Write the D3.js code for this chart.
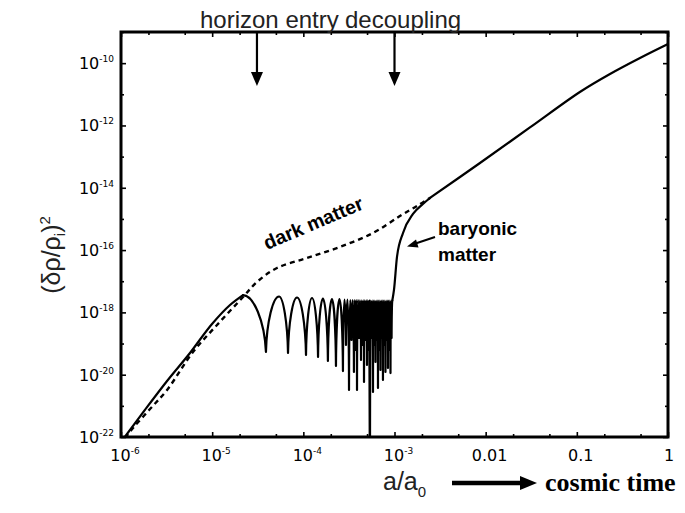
<!DOCTYPE html>
<html>
<head>
<meta charset="utf-8">
<script src="https://cdn.jsdelivr.net/npm/d3@7"></script>
<style>
  body { margin: 0; background: #fff; }
  text { fill: #000; }
</style>
</head>
<body>
<svg id="chart" width="685" height="513"></svg>
<script>
// ---- data: [a/a0, (δρ/ρ)^2] ----
const xMajor = [1e-6, 1e-5, 1e-4, 1e-3, 1e-2, 1e-1, 1];
const xMinor = [2e-6, 5e-6, 2e-5, 5e-5, 2e-4, 5e-4, 2e-3, 5e-3, 2e-2, 5e-2, 0.2, 0.5];
const xTickLabels = ["10^-6", "10^-5", "10^-4", "10^-3", "0.01", "0.1", "1"];
const yMajor = [1e-22, 1e-20, 1e-18, 1e-16, 1e-14, 1e-12, 1e-10];
const yMinor = [1e-21, 1e-19, 1e-17, 1e-15, 1e-13, 1e-11, 1e-9];
const yTickLabels = ["10^-22", "10^-20", "10^-18", "10^-16", "10^-14", "10^-12", "10^-10"];

const horizonEntry = 3.1e-5;
const decoupling = 1e-3;

// dark matter (dashed) up to where it joins the baryons
const darkMatter = [
  [1.107e-6, 9.3e-23], [1.355e-6, 1.95e-22], [2.08e-6, 7.9e-22], [3.2e-6, 3.23e-21],
  [6.16e-6, 5.35e-20], [1.13e-5, 3.94e-19], [2.18e-5, 3.12e-18], [3.10e-5, 9.46e-18],
  [5.14e-5, 2.66e-17], [1.097e-4, 5.57e-17], [2.52e-4, 1.26e-16], [5.81e-4, 3.54e-16],
  [1.148e-3, 1.24e-15], [1.765e-3, 2.60e-15], [2.45e-3, 4.71e-15]
];

// baryons before horizon entry
const baryonEarly = [
  [1.1e-6, 1.0e-22], [1.83e-6, 7.4e-22], [3.2e-6, 6.28e-21], [5.71e-6, 4.97e-20],
  [9.96e-6, 4.24e-19], [1.569e-5, 1.73e-18], [2.18e-5, 3.6e-18]
];

// acoustic oscillation maxima and minima (peak, trough, peak, ... peak)
const acousticPeaks = [
  [2.18e-5, 3.6e-18], [5.41e-5, 3.24e-18], [8.52e-5, 3.01e-18], [1.245e-4, 2.90e-18],
  [1.64e-4, 2.79e-18], [2.06e-4, 2.69e-18], [2.49e-4, 2.69e-18], [2.828e-4, 2.59e-18],
  [3.051e-4, 2.59e-18], [3.270e-4, 2.50e-18], [3.482e-4, 2.50e-18], [3.663e-4, 2.50e-18],
  [3.804e-4, 2.50e-18], [3.976e-4, 2.50e-18], [4.182e-4, 2.45e-18], [4.371e-4, 2.45e-18],
  [4.539e-4, 2.45e-18], [4.715e-4, 2.45e-18], [4.898e-4, 2.45e-18], [5.087e-4, 2.45e-18],
  [5.283e-4, 2.40e-18], [5.488e-4, 2.40e-18], [5.699e-4, 2.40e-18], [5.896e-4, 2.40e-18],
  [6.088e-4, 2.40e-18], [6.282e-4, 2.40e-18], [6.483e-4, 2.40e-18], [6.691e-4, 2.40e-18],
  [6.905e-4, 2.40e-18], [7.126e-4, 2.40e-18], [7.354e-4, 2.40e-18], [7.590e-4, 2.40e-18],
  [7.834e-4, 2.40e-18], [8.085e-4, 2.40e-18], [8.344e-4, 2.40e-18], [8.611e-4, 2.40e-18],
  [8.887e-4, 2.40e-18], [9.162e-4, 2.40e-18], [9.46e-4, 2.40e-18]
];
const acousticTroughs = [
  [3.89e-5, 5.35e-20], [6.79e-5, 4.97e-20], [1.07e-4, 4.29e-20], [1.45e-4, 3.70e-20],
  [1.86e-4, 2.75e-20], [2.28e-4, 1.90e-20], [2.72e-4, 1.31e-20], [2.937e-4, 8.97e-20],
  [3.17e-4, 3.23e-21], [3.375e-4, 1.30e-19], [3.59e-4, 1.22e-20], [3.733e-4, 6.21e-20],
  [3.88e-4, 3.23e-21], [4.077e-4, 1.51e-19], [4.29e-4, 2.96e-20], [4.455e-4, 8.97e-20],
  [4.63e-4, 5.83e-21], [4.806e-4, 1.30e-19], [4.99e-4, 2.05e-20], [5.184e-4, 6.21e-20],
  [5.38e-4, 1e-24], [5.592e-4, 1.51e-19], [5.81e-4, 2.78e-21], [5.985e-4, 8.97e-20],
  [6.19e-4, 2.56e-20], [6.375e-4, 1.30e-19], [6.59e-4, 3.74e-21], [6.792e-4, 6.21e-20],
  [7.02e-4, 1.42e-20], [7.236e-4, 1.51e-19], [7.47e-4, 6.76e-21], [7.705e-4, 8.97e-20],
  [7.96e-4, 1.22e-20], [8.21e-4, 1.30e-19], [8.48e-4, 1.64e-20], [8.745e-4, 6.21e-20],
  [9.04e-4, 1.13e-20], [9.292e-4, 1.51e-19]
];

// baryons falling into the dark matter wells after decoupling
const baryonRise = [
  [9.46e-4, 2.40e-18], [9.87e-4, 5.24e-18], [1.065e-3, 6.0e-17], [1.24e-3, 3.54e-16],
  [1.595e-3, 1.44e-15], [2.05e-3, 3.02e-15], [2.45e-3, 4.71e-15]
];

// shared growth once both components move together
const matterEra = [
  [2.45e-3, 4.71e-15], [8.66e-3, 6.25e-14], [3.06e-2, 8.63e-13], [0.108, 1.19e-11],
  [0.231, 4.50e-11], [0.493, 1.47e-10], [1, 4.13e-10]
];

// ---- chart ----
const svg = d3.select("#chart");
const x = d3.scaleLog().domain([1e-6, 1]).range([121, 668]);
const y = d3.scaleLog().domain([1e-22, 1e-9]).range([437, 32]);
const [x0, x1] = x.range(), [y0, y1] = y.range();

svg.append("defs").append("clipPath").attr("id", "plot")
  .append("rect").attr("x", x0).attr("y", y1).attr("width", x1 - x0).attr("height", y0 - y1);

// ticks, pointing inward on all four sides
function ticks(axis, scale, vals, len, tr) {
  svg.append("g").attr("transform", tr)
    .call(axis(scale).tickValues(vals).tickSize(-len).tickFormat(""))
    .call(g => g.select(".domain").remove())
    .selectAll("line").attr("stroke", "#000").attr("stroke-width", 1.6);
}
ticks(d3.axisBottom, x, xMajor, 5, `translate(0,${y0})`);
ticks(d3.axisBottom, x, xMinor, 3, `translate(0,${y0})`);
ticks(d3.axisTop, x, xMajor, 5, `translate(0,${y1})`);
ticks(d3.axisTop, x, xMinor, 3, `translate(0,${y1})`);
ticks(d3.axisLeft, y, yMajor, 5, `translate(${x0},0)`);
ticks(d3.axisLeft, y, yMinor, 3, `translate(${x0},0)`);
ticks(d3.axisRight, y, yMajor, 5, `translate(${x1},0)`);
ticks(d3.axisRight, y, yMinor, 3, `translate(${x1},0)`);

// tick labels with small superscripts
function label(g, str) {
  const [base, exp] = str.split("^");
  g.append("tspan").text(base);
  if (exp) g.append("tspan").attr("dy", -7).attr("font-size", 9).text(exp);
}
xMajor.forEach((v, i) => {
  const t = svg.append("text")
    .attr("x", x(v) + (i < xMajor.length - 1 ? 4 : 1)).attr("y", 461)
    .attr("text-anchor", "middle")
    .attr("font-family", "DejaVu Sans").attr("font-size", 16);
  label(t, xTickLabels[i]);
});
yMajor.forEach((v, i) => {
  const t = svg.append("text")
    .attr("x", x0 - 7).attr("y", y(v) + 6)
    .attr("text-anchor", "end")
    .attr("font-family", "DejaVu Sans").attr("font-size", 16);
  label(t, yTickLabels[i]);
});

// curves
const plot = svg.append("g").attr("clip-path", "url(#plot)");
const smooth = d3.line().x(d => x(d[0])).y(d => y(d[1])).curve(d3.curveCatmullRom.alpha(0.5));
const mono = d3.line().x(d => x(d[0])).y(d => y(d[1])).curve(d3.curveMonotoneX);

plot.append("path").attr("d", smooth(darkMatter))
  .attr("fill", "none").attr("stroke", "#000").attr("stroke-width", 2.4)
  .attr("stroke-dasharray", "5,4");

const solid = p => p.attr("fill", "none").attr("stroke", "#000")
  .attr("stroke-width", 2.2).attr("stroke-linejoin", "round").attr("stroke-linecap", "round");

plot.append("path").attr("d", mono(baryonEarly)).call(solid);

// oscillations: rounded maxima, cusp-like minima
let osc = `M${x(acousticPeaks[0][0])},${y(acousticPeaks[0][1])}`;
acousticTroughs.forEach((t, i) => {
  const p = acousticPeaks[i], q = acousticPeaks[i + 1];
  const px = x(p[0]), py = y(p[1]), tx = x(t[0]), ty = y(t[1]);
  const qx = x(q[0]), qy = y(q[1]);
  const d1 = tx - px, d2 = qx - tx;
  osc += `C${px + 0.45 * d1},${py} ${tx - 0.06 * d1},${ty - 0.55 * (ty - py)} ${tx},${ty}`;
  osc += `C${tx + 0.06 * d2},${ty - 0.55 * (ty - qy)} ${qx - 0.45 * d2},${qy} ${qx},${qy}`;
});
plot.append("path").attr("d", osc).call(solid);

plot.append("path").attr("d", mono(baryonRise)).call(solid);
plot.append("path").attr("d", smooth(matterEra)).call(solid);

// frame
svg.append("rect").attr("x", x0).attr("y", y1).attr("width", x1 - x0).attr("height", y0 - y1)
  .attr("fill", "none").attr("stroke", "#000").attr("stroke-width", 3);

// event arrows on top
[horizonEntry, decoupling].forEach(v => {
  const ax = x(v);
  svg.append("line").attr("x1", ax).attr("x2", ax).attr("y1", y1).attr("y2", 76)
    .attr("stroke", "#000").attr("stroke-width", 2.2);
  svg.append("path").attr("d", `M${ax - 6},${72}L${ax + 6},${72}L${ax},${86}Z`).attr("fill", "#000");
});
svg.append("text").attr("x", 200).attr("y", 28).style("fill", "#222")
  .attr("font-family", "Liberation Sans").attr("font-size", 24).text("horizon entry");
svg.append("text").attr("x", 345).attr("y", 28).style("fill", "#222")
  .attr("font-family", "Liberation Sans").attr("font-size", 24).text("decoupling");

// curve labels
svg.append("text").attr("transform", "translate(267,250) rotate(-23)")
  .attr("font-family", "Liberation Sans").attr("font-weight", "bold").attr("font-size", 19.5)
  .text("dark matter");
svg.append("text").attr("x", 438).attr("y", 235)
  .attr("font-family", "Liberation Sans").attr("font-weight", "bold").attr("font-size", 19)
  .text("baryonic");
svg.append("text").attr("x", 438).attr("y", 261)
  .attr("font-family", "Liberation Sans").attr("font-weight", "bold").attr("font-size", 19)
  .text("matter");
svg.append("line").attr("x1", 435).attr("y1", 237).attr("x2", 414).attr("y2", 244)
  .attr("stroke", "#000").attr("stroke-width", 2);
svg.append("path").attr("d", "M407,246.5L416,239.5L418.5,247.5Z").attr("fill", "#000");

// axis titles
const yt = svg.append("text").attr("transform", "translate(60,255) rotate(-90)")
  .attr("text-anchor", "middle").style("fill", "#222")
  .attr("font-family", "Liberation Sans").attr("font-size", 25);
yt.append("tspan").text("(δρ/ρ");
yt.append("tspan").attr("font-size", 15).attr("dy", 5).text("i");
yt.append("tspan").attr("dy", -5).text(")");
yt.append("tspan").attr("font-size", 15).attr("dy", -10).text("2");

const xt = svg.append("text").attr("x", 383).attr("y", 490).style("fill", "#222")
  .attr("font-family", "Liberation Sans").attr("font-size", 25);
xt.append("tspan").text("a/a");
xt.append("tspan").attr("font-size", 15).attr("dy", 7).text("0");

svg.append("line").attr("x1", 452).attr("x2", 524).attr("y1", 483).attr("y2", 483)
  .attr("stroke", "#000").attr("stroke-width", 4.5);
svg.append("path").attr("d", "M520,476L537,483L520,490Z").attr("fill", "#000");
svg.append("text").attr("x", 545).attr("y", 491)
  .attr("font-family", "Liberation Serif").attr("font-weight", "bold").attr("font-size", 26)
  .text("cosmic time");
</script>
</body>
</html>
